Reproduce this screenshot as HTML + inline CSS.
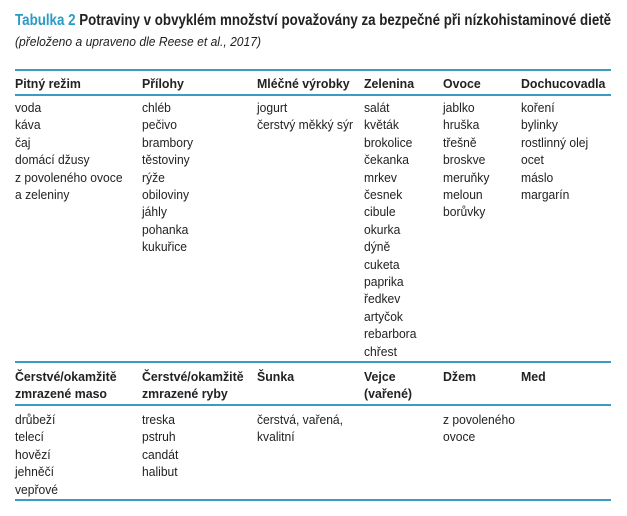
<!DOCTYPE html>
<html><head><meta charset="utf-8"><style>
body{margin:0;width:627px;height:516px;background:#fff;position:relative;overflow:hidden;font-family:"Liberation Sans",sans-serif;color:#222}
.a{position:absolute;white-space:nowrap;transform-origin:0 0;transform:scaleX(0.93)}
.col{font-size:13px;line-height:17.4px}
.h{font-weight:bold;font-size:13px;line-height:17.4px;transform:scaleX(0.95)}
.ln{position:absolute;left:15px;width:596px;background:#3a9cc2}
</style></head><body>
<div class="a" style="left:15px;top:12px;font-size:15.5px;font-weight:bold;transform:scaleX(0.86)"><span style="color:#2a9bc4">Tabulka 2</span> Potraviny v obvyklém množství považovány za bezpečné při nízkohistaminové dietě</div>
<div class="a" style="left:15px;top:34px;font-size:13px;font-style:italic;transform:scaleX(0.93)">(přeloženo a upraveno dle Reese et al., 2017)</div>

<div class="ln" style="top:69px;height:2px"></div>
<div class="ln" style="top:94px;height:2px"></div>
<div class="ln" style="top:361px;height:2px"></div>
<div class="ln" style="top:404px;height:2px"></div>
<div class="ln" style="top:499px;height:2px"></div>

<div class="a h" style="left:15px;top:75px">Pitný režim</div>
<div class="a h" style="left:142px;top:75px">Přílohy</div>
<div class="a h" style="left:257px;top:75px">Mléčné výrobky</div>
<div class="a h" style="left:364px;top:75px">Zelenina</div>
<div class="a h" style="left:443px;top:75px">Ovoce</div>
<div class="a h" style="left:521px;top:75px">Dochucovadla</div>

<div class="a col" style="left:15px;top:99px">voda<br>káva<br>čaj<br>domácí džusy<br>z povoleného ovoce<br>a zeleniny</div>
<div class="a col" style="left:142px;top:99px">chléb<br>pečivo<br>brambory<br>těstoviny<br>rýže<br>obiloviny<br>jáhly<br>pohanka<br>kukuřice</div>
<div class="a col" style="left:257px;top:99px">jogurt<br>čerstvý měkký sýr</div>
<div class="a col" style="left:364px;top:99px">salát<br>květák<br>brokolice<br>čekanka<br>mrkev<br>česnek<br>cibule<br>okurka<br>dýně<br>cuketa<br>paprika<br>ředkev<br>artyčok<br>rebarbora<br>chřest</div>
<div class="a col" style="left:443px;top:99px">jablko<br>hruška<br>třešně<br>broskve<br>meruňky<br>meloun<br>borůvky</div>
<div class="a col" style="left:521px;top:99px">koření<br>bylinky<br>rostlinný olej<br>ocet<br>máslo<br>margarín</div>

<div class="a h" style="left:15px;top:368px">Čerstvé/okamžitě<br>zmrazené maso</div>
<div class="a h" style="left:142px;top:368px">Čerstvé/okamžitě<br>zmrazené ryby</div>
<div class="a h" style="left:257px;top:368px">Šunka</div>
<div class="a h" style="left:364px;top:368px">Vejce<br>(vařené)</div>
<div class="a h" style="left:443px;top:368px">Džem</div>
<div class="a h" style="left:521px;top:368px">Med</div>

<div class="a col" style="left:15px;top:411px">drůbeží<br>telecí<br>hovězí<br>jehněčí<br>vepřové</div>
<div class="a col" style="left:142px;top:411px">treska<br>pstruh<br>candát<br>halibut</div>
<div class="a col" style="left:257px;top:411px">čerstvá, vařená,<br>kvalitní</div>
<div class="a col" style="left:443px;top:411px">z povoleného<br>ovoce</div>
</body></html>
